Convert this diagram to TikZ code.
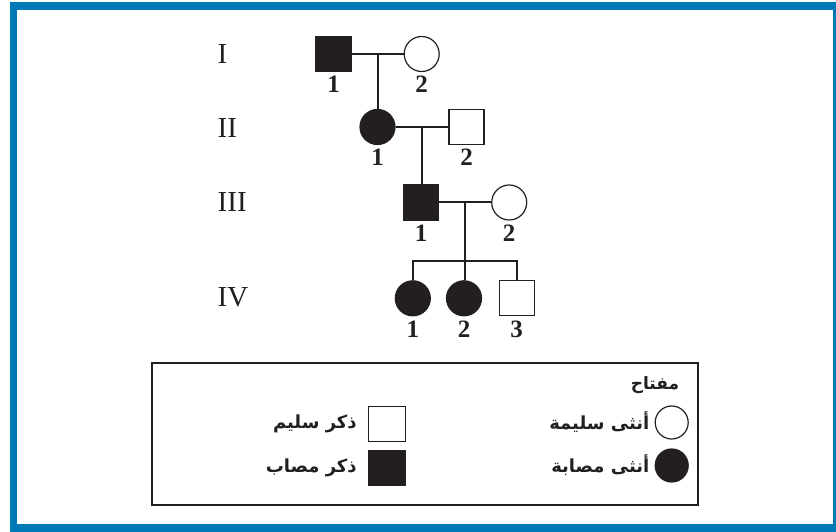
\documentclass[tikz,border=0pt]{standalone}
\usepackage{fontspec}
\setmainfont{Liberation Serif}
\newfontfamily\arabicfont[Script=Arabic]{DejaVu Sans}
\TeXXeTstate=1
\usetikzlibrary{calc,positioning}
\definecolor{frameblue}{RGB}{0,122,183}
\definecolor{inkblack}{RGB}{35,31,32}
\tikzset{
  person/.style={draw=inkblack, line width=1.2pt, minimum size=35pt, inner sep=0pt},
  healthy male/.style={person, rectangle, fill=white},
  affected male/.style={person, rectangle, fill=inkblack},
  healthy female/.style={person, circle, fill=white},
  affected female/.style={person, circle, fill=inkblack},
  pedigree line/.style={draw=inkblack, line width=2pt},
  generation/.style={font=\fontsize{29}{32}\selectfont, anchor=west,
    inner sep=0pt, text=inkblack},
  member no/.style={font=\bfseries\fontsize{25}{28}\selectfont,
    inner sep=0pt, text=inkblack},
  key text/.style={font=\arabicfont\bfseries\fontsize{18}{22}\selectfont,
    inner sep=0pt, text=inkblack}
}
\newcommand{\memberNo}[2]{%
  \node[member no, below=4pt of #1] (#1-no) {#2};%
}

\begin{document}
\begin{tikzpicture}[x=1pt,y=-1pt]
  \useasboundingbox (0,0) rectangle (836,532);
  \fill[frameblue] (10,2) rectangle (836,532);
  \fill[white] (17,10) rectangle (832.7,524);

  % generations
  \node[generation] (genI) at (217.5,54) {I};
  \node[generation] (genII) at (217.5,128) {II};
  \node[generation] (genIII) at (217.5,202) {III};
  \node[generation] (genIV) at (217.5,297) {IV};

  \node[affected male] (I1) at (333.5,54) {};
  \node[healthy female] (I2) at (421.7,54) {};
  \node[affected female] (II1) at (377.5,127) {};
  \node[healthy male] (II2) at (466.5,127) {};
  \node[affected male] (III1) at (421,202.5) {};
  \node[healthy female] (III2) at (509.2,202.5) {};
  \node[affected female] (IV1) at (412.8,298.3) {};
  \node[affected female] (IV2) at (464,298.3) {};
  \node[healthy male] (IV3) at (516.7,298.3) {};

  \coordinate (m1) at ($(I1.east)!0.5!(I2.west)$);
  \coordinate (m2) at ($(II1.east)!0.5!(II2.west)$);
  \coordinate (m3) at ($(III1.east)!0.5!(III2.west)$);
  \coordinate (sib) at (464,261);

  \draw[pedigree line] (I1) -- (I2);
  \draw[pedigree line] (m1) -- (m1 |- II1.north);
  \draw[pedigree line] (II1) -- (II2);
  \draw[pedigree line] (m2) -- (m2 |- III1.north);
  \draw[pedigree line] (III1) -- (III2);
  \draw[pedigree line] (m3) -- (m3 |- IV2.north);
  \draw[pedigree line] (IV1.north) |- (sib) -| (IV3.north);

  \memberNo{I1}{1}
  \memberNo{I2}{2}
  \memberNo{II1}{1}
  \memberNo{II2}{2}
  \memberNo{III1}{1}
  \memberNo{III2}{2}
  \memberNo{IV1}{1}
  \memberNo{IV2}{2}
  \memberNo{IV3}{3}

  % key
  \node[draw=inkblack, line width=2pt, minimum width=546.6pt,
    minimum height=141.7pt, inner sep=0pt] (key) at (425,434.2) {};
  \node[key text, anchor=east, font=\arabicfont\bfseries\fontsize{17}{20}\selectfont]
    (keyTitle) at (679.3,385) {\beginR مفتاح\endR};
  \node[healthy female, minimum size=33pt] (kF) at (671.7,422.5) {};
  \node[affected female, minimum size=33pt] (kFa) at (671.7,465.5) {};
  \node[healthy male, minimum width=37pt, minimum height=35pt] (kM)
    at (387,424.2) {};
  \node[affected male, minimum width=37pt, minimum height=35pt] (kMa)
    at (387,468) {};
  \node[key text, left=5pt of kF] (kFt) {\beginR أنثى سليمة\endR};
  \node[key text, left=5pt of kFa] (kFat) {\beginR أنثى مصابة\endR};
  \node[key text, left=11pt of kM] (kMt) {\beginR ذكر سليم\endR};
  \node[key text, left=11pt of kMa] (kMat) {\beginR ذكر مصاب\endR};
\end{tikzpicture}
\end{document}
